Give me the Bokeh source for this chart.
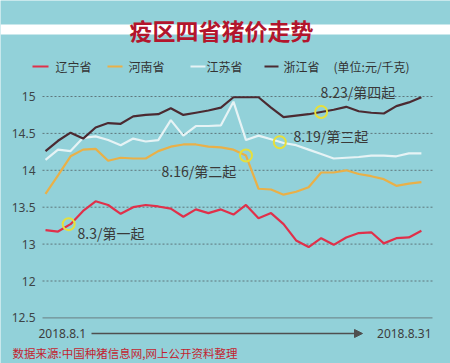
from bokeh.plotting import figure
from bokeh.models import Label, BoxAnnotation, Arrow, NormalHead
from bokeh.core.properties import value
from bokeh.embed import file_html
from bokeh.resources import INLINE

days = list(range(1, 32))
liaoning = [13.19, 13.17, 13.27, 13.45, 13.58, 13.53, 13.41, 13.50, 13.53, 13.51, 13.48,
            13.37, 13.47, 13.42, 13.47, 13.40, 13.53, 13.35, 13.42, 13.27, 13.05, 12.96,
            13.08, 12.99, 13.09, 13.15, 13.16, 13.01, 13.08, 13.09, 13.18]
henan = [13.68, 13.93, 14.19, 14.28, 14.29, 14.13, 14.17, 14.16, 14.16, 14.26, 14.32,
         14.35, 14.35, 14.32, 14.31, 14.28, 14.20, 13.75, 13.74, 13.67, 13.71, 13.77,
         13.97, 13.97, 14.00, 13.95, 13.92, 13.88, 13.79, 13.82, 13.84]
jiangsu = [14.14, 14.28, 14.26, 14.44, 14.46, 14.41, 14.34, 14.43, 14.39, 14.41, 14.68,
           14.47, 14.60, 14.60, 14.61, 14.93, 14.41, 14.47, 14.42, 14.37, 14.34, 14.28,
           14.22, 14.16, 14.17, 14.18, 14.20, 14.20, 14.19, 14.23, 14.23]
zhejiang = [14.26, 14.40, 14.51, 14.43, 14.58, 14.64, 14.63, 14.73, 14.75, 14.76, 14.84,
            14.75, 14.78, 14.81, 14.85, 14.99, 14.99, 14.99, 14.85, 14.72, 14.74, 14.76,
            14.79, 14.82, 14.86, 14.80, 14.78, 14.77, 14.87, 14.92, 14.99]

series_names = ["辽宁省", "河南省", "江苏省", "浙江省"]
series_colors = ["#e0304a", "#e9b048", "#e6f3f5", "#4b2a31"]

event_day = [2.85, 17.0, 19.7, 23.0]
event_val = [13.27, 14.20, 14.38, 14.79]
event_text = ["8.3/第一起", "8.16/第二起", "8.19/第三起", "8.23/第四起"]

y_ticks = [12.0, 12.5, 13.0, 13.5, 14.0, 14.5, 15.0]
y_tick_labels = ["12.5", "12", "13", "13.5", "14", "14.5", "15"]

title = "疫区四省猪价走势"
unit_text = "(单位:元/千克)"
start_text = "2018.8.1"
end_text = "2018.8.31"
source_text = "数据来源:中国种猪信息网,网上公开资料整理"

BG = "#92d1d9"
CJK = "Noto Sans CJK SC"
W, H = 450, 363

# layout constants (pixels): day 1 at x=45, 12.53 px per day; 15.0 at y=96, 73.8 px per unit
X0, DX = 45.0, 12.53
Y0, DY = 96.0, 73.8


def dx(px):
    return 1 + (px - X0) / DX


def dy(py):
    return 15.0 - (py - Y0) / DY


def sx(px):
    return px


def sy(py):
    return H - py


p = figure(width=W, height=H, x_range=(dx(0), dx(W)), y_range=(dy(H), dy(0)),
           output_backend="svg", toolbar_location=None, min_border=0)
p.background_fill_color = BG
p.border_fill_color = BG
p.outline_line_color = None
p.axis.visible = False
p.grid.visible = False

# grid lines (dotted) and base line (solid)
gx0, gx1 = dx(42), dx(432)
p.segment(x0=[gx0] * 6, x1=[gx1] * 6, y0=y_ticks[1:], y1=y_ticks[1:],
          line_color="#5f777c", line_width=1, line_dash="2 2")
p.segment(x0=[gx0], x1=[gx1], y0=y_ticks[:1], y1=y_ticks[:1],
          line_color="#6a7e83", line_width=1)

# tick labels
p.text(x=[dx(35)] * len(y_ticks), y=y_ticks, text=y_tick_labels, text_align="right",
       text_baseline="middle", text_font=value("Noto Sans"), text_font_size="12px",
       text_color="#3d4447")

for vals, col in zip([jiangsu, henan, liaoning, zhejiang],
                     [series_colors[2], series_colors[1], series_colors[0], series_colors[3]]):
    p.line(days, vals, line_color=col, line_width=2.2)

p.scatter(event_day, event_val, size=12, fill_alpha=0, line_color="#e6df3c", line_width=2)

# title band and title
p.add_layout(BoxAnnotation(left=0, right=W, top=sy(24), bottom=sy(34),
                           left_units="screen", right_units="screen",
                           top_units="screen", bottom_units="screen",
                           fill_color="white", fill_alpha=1, line_alpha=0))
p.add_layout(Label(x=sx(221), y=sy(29), x_units="screen", y_units="screen", text=title,
                   text_align="center", text_baseline="middle", text_font=CJK,
                   text_font_style="bold", text_font_size="23px", text_color="#b3152c"))

# legend
leg_line_x = [(32, 48), (107, 122), (190, 205), (264, 278)]
leg_text_x = [55, 128, 206, 283]
for (a, b), tx, name, col in zip(leg_line_x, leg_text_x, series_names, series_colors):
    p.add_layout(BoxAnnotation(left=sx(a), right=sx(b), top=sy(65), bottom=sy(67),
                               left_units="screen", right_units="screen",
                               top_units="screen", bottom_units="screen",
                               fill_color=col, fill_alpha=1, line_alpha=0))
    p.add_layout(Label(x=sx(tx), y=sy(66), x_units="screen", y_units="screen", text=name,
                       text_baseline="middle", text_font=CJK, text_font_size="12px",
                       text_color="#333333"))
p.add_layout(Label(x=sx(333), y=sy(66), x_units="screen", y_units="screen", text=unit_text,
                   text_baseline="middle", text_font=CJK, text_font_size="12px",
                   text_color="#333333"))

# event labels
ev_pos = [(77, 232), (161, 170), (293, 135), (320, 91)]
for (ex, ey), t in zip(ev_pos, event_text):
    p.add_layout(Label(x=sx(ex), y=sy(ey), x_units="screen", y_units="screen", text=t,
                       text_baseline="middle", text_font=CJK, text_font_size="14px",
                       text_color="#3a3a3a"))

# bottom dates and arrow
p.add_layout(Label(x=sx(38), y=sy(333), x_units="screen", y_units="screen", text=start_text,
                   text_baseline="middle", text_font="Noto Sans", text_font_size="12px",
                   text_color="#3d3d3d"))
p.add_layout(Label(x=sx(431), y=sy(333), x_units="screen", y_units="screen", text=end_text,
                   text_align="right", text_baseline="middle", text_font="Noto Sans",
                   text_font_size="12px", text_color="#3d3d3d"))
p.add_layout(Arrow(x_start=sx(91), y_start=sy(333), x_end=sx(362), y_end=sy(333),
                   start_units="screen", end_units="screen", line_color="#4f4f4f",
                   line_width=1.5,
                   end=NormalHead(size=8, fill_color="#4f4f4f", line_color="#4f4f4f")))

# source
p.add_layout(Label(x=sx(12), y=sy(352), x_units="screen", y_units="screen", text=source_text,
                   text_baseline="middle", text_font=CJK, text_font_size="11.5px",
                   text_color="#c21f30"))

open("out.html", "w").write(file_html(p, INLINE))
